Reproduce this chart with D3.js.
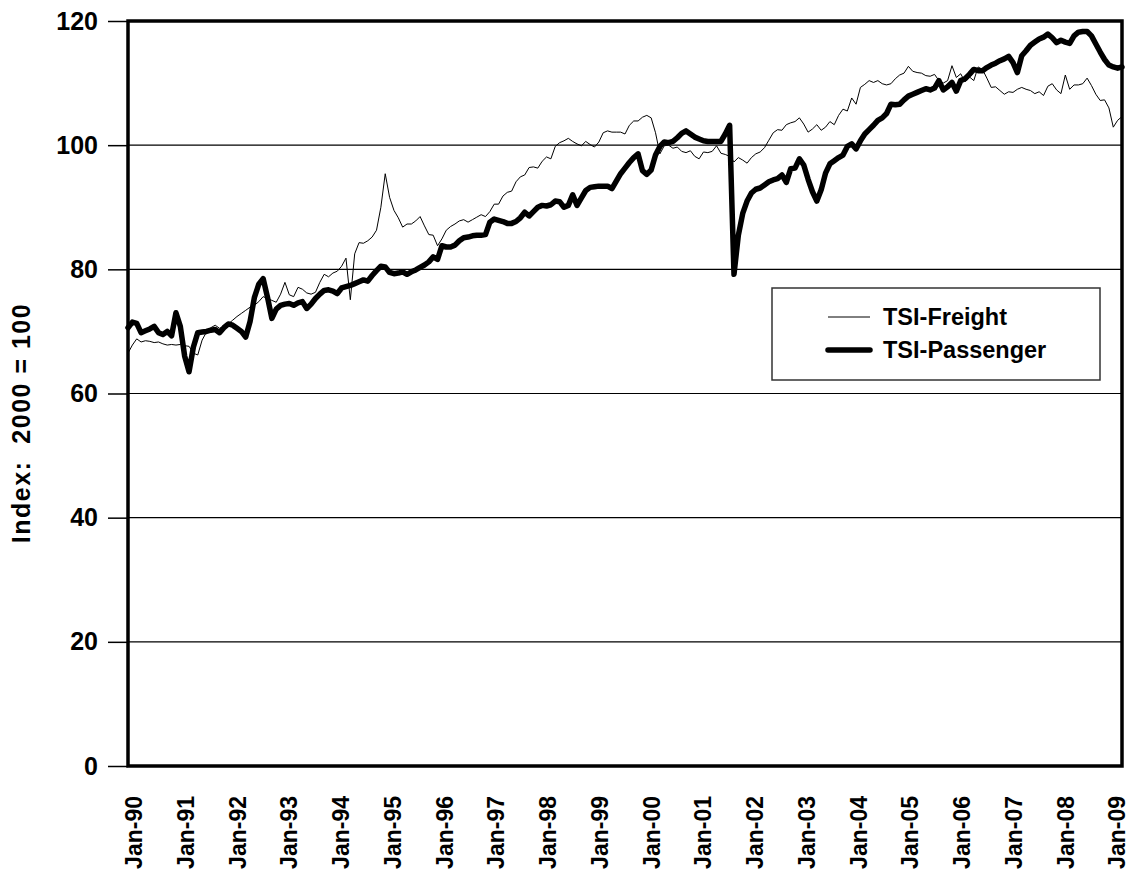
<!DOCTYPE html>
<html>
<head>
<meta charset="utf-8">
<script src="https://cdn.jsdelivr.net/npm/d3@7"></script>
<style>
  html, body { margin: 0; padding: 0; background: #fff; }
  svg { display: block; }
  text { font-family: "Liberation Sans", Arial, Helvetica, sans-serif; font-weight: bold; fill: #000; }
</style>
</head>
<body>
<svg id="chart" width="1129" height="873"></svg>
<script>
// Transportation Services Index, monthly, Jan-90 .. Jan-09 (2000 = 100)
const yearLabels = ["Jan-90","Jan-91","Jan-92","Jan-93","Jan-94","Jan-95","Jan-96","Jan-97","Jan-98","Jan-99",
                    "Jan-00","Jan-01","Jan-02","Jan-03","Jan-04","Jan-05","Jan-06","Jan-07","Jan-08","Jan-09"];
const yTicks = [0, 20, 40, 60, 80, 100, 120];
const seriesNames = ["TSI-Freight", "TSI-Passenger"];

const freight = [
  66.5, 67.8, 68.8, 68.3, 68.5, 68.4, 68.2, 68.3, 68.0, 67.8, 67.9, 67.8,        // 1990
  67.9, 67.7, 67.6, 66.5, 66.2, 68.6, 69.9, 70.6, 71.0, 70.5, 70.8, 71.2,        // 1991
  71.8, 72.4, 72.9, 73.4, 73.9, 74.2, 74.8, 75.6, 75.3, 75.0, 74.7, 76.0,        // 1992
  77.9, 75.9, 75.6, 77.1, 76.8, 76.2, 76.0, 76.3, 77.9, 79.2, 78.8, 79.4,        // 1993
  79.7, 80.5, 81.8, 75.1, 82.5, 84.3, 84.2, 84.6, 85.2, 86.3, 90.0, 95.4,        // 1994
  91.6, 89.5, 88.3, 86.8, 87.3, 87.3, 87.8, 88.5, 87.0, 85.6, 85.5, 83.8,        // 1995
  84.9, 86.3, 86.9, 87.3, 87.8, 88.0, 87.6, 88.0, 88.4, 88.8, 88.5, 89.3,        // 1996
  90.5, 90.5, 91.8, 92.4, 92.6, 94.1, 94.9, 95.2, 96.4, 96.5, 96.3, 97.4,        // 1997
  98.1, 97.8, 99.8, 100.4, 100.7, 101.1, 100.6, 100.2, 99.9, 100.6, 100.1, 99.7, // 1998
  100.5, 102.0, 102.3, 102.1, 102.1, 102.1, 101.8, 103.2, 103.9, 103.9, 104.5, 104.8, // 1999
  104.4, 102.0, 98.6, 99.9, 100.0, 99.5, 99.7, 99.0, 98.8, 99.1, 98.2, 97.8,     // 2000
  98.9, 98.8, 99.0, 99.9, 98.7, 98.5, 98.2, 97.3, 98.0, 97.6, 97.1, 98.0,        // 2001
  98.6, 98.9, 99.6, 100.8, 102.0, 102.5, 102.4, 103.3, 103.6, 103.8, 104.4, 103.4, // 2002
  102.1, 102.6, 103.3, 102.4, 102.9, 103.8, 103.3, 104.8, 105.8, 105.5, 107.6, 106.6, // 2003
  109.3, 109.8, 110.4, 110.1, 110.4, 109.9, 109.7, 109.9, 110.7, 111.3, 111.6, 112.7, // 2004
  111.9, 111.7, 111.6, 111.2, 111.1, 111.4, 110.4, 110.0, 110.4, 112.8, 110.9, 111.5, // 2005
  110.2, 111.0, 110.4, 112.6, 112.2, 110.8, 109.3, 109.4, 108.8, 108.2, 108.6, 108.5, // 2006
  109.0, 109.3, 109.0, 108.8, 108.3, 108.6, 108.0, 109.5, 109.9, 108.9, 108.3, 111.3, // 2007
  109.0, 109.7, 109.7, 109.9, 110.8, 109.6, 108.2, 107.2, 107.3, 106.0, 102.9, 104.0, // 2008
  104.6                                                                            // Jan-09
];

const passenger = [
  70.6, 71.5, 71.3, 69.8, 70.1, 70.4, 70.8, 69.8, 69.5, 70.0, 69.3, 73.0,        // 1990
  70.8, 66.0, 63.5, 67.5, 69.8, 69.9, 70.0, 70.2, 70.3, 69.8, 70.6, 71.2,        // 1991
  71.0, 70.5, 70.0, 69.1, 71.6, 75.5, 77.6, 78.5, 75.5, 72.1, 73.6, 74.2,        // 1992
  74.4, 74.5, 74.2, 74.6, 74.8, 73.7, 74.4, 75.3, 76.0, 76.6, 76.7, 76.5,        // 1993
  76.1, 77.0, 77.2, 77.4, 77.7, 78.0, 78.3, 78.1, 79.0, 79.8, 80.5, 80.4,        // 1994
  79.5, 79.3, 79.4, 79.6, 79.2, 79.6, 79.9, 80.3, 80.7, 81.2, 82.0, 81.6,        // 1995
  83.8, 83.6, 83.6, 83.9, 84.6, 85.1, 85.2, 85.4, 85.5, 85.5, 85.6, 87.6,        // 1996
  88.1, 87.9, 87.7, 87.4, 87.4, 87.7, 88.3, 89.2, 88.6, 89.3, 90.0, 90.3,        // 1997
  90.2, 90.4, 91.0, 90.9, 90.0, 90.3, 92.0, 90.3, 91.5, 92.7, 93.2, 93.3,        // 1998
  93.4, 93.4, 93.4, 93.0, 94.2, 95.4, 96.3, 97.2, 98.0, 98.6, 95.9, 95.3,        // 1999
  96.0, 98.4, 99.8, 100.5, 100.4, 100.6, 101.2, 101.9, 102.3, 101.8, 101.3, 101.0, // 2000
  100.7, 100.6, 100.6, 100.6, 100.6, 101.8, 103.2, 79.2, 85.5, 89.0, 91.0, 92.3,  // 2001
  92.9, 93.1, 93.6, 94.1, 94.4, 94.6, 95.2, 94.0, 96.2, 96.3, 97.8, 96.8,        // 2002
  94.5, 92.5, 91.0, 92.8, 95.5, 97.0, 97.5, 98.0, 98.4, 99.8, 100.2, 99.4,       // 2003
  100.7, 101.8, 102.5, 103.2, 104.0, 104.4, 105.1, 106.6, 106.5, 106.6, 107.3, 107.9, // 2004
  108.2, 108.5, 108.8, 109.1, 108.9, 109.2, 110.4, 108.9, 109.4, 110.1, 108.7, 110.4, // 2005
  110.7, 111.4, 112.2, 112.0, 112.0, 112.5, 112.9, 113.2, 113.6, 113.9, 114.3, 113.3, // 2006
  111.7, 114.4, 115.2, 116.1, 116.6, 117.1, 117.4, 117.9, 117.3, 116.5, 116.9, 116.6, // 2007
  116.4, 117.6, 118.2, 118.3, 118.3, 117.6, 116.3, 115.0, 113.8, 112.9, 112.6, 112.4, // 2008
  112.6                                                                            // Jan-09
];

// ---- layout ----
const svg = d3.select("#chart");
const plot = { left: 128, top: 21, right: 1122, bottom: 766 };

const x = d3.scaleLinear().domain([0, freight.length - 1]).range([plot.left, plot.right]);
const xLab = d3.scalePoint().domain(yearLabels).range([plot.left + 6, plot.right - 5]);
const y = d3.scaleLinear().domain([0, 120]).range([plot.bottom, plot.top]);

// horizontal gridlines
svg.append("g")
  .selectAll("line")
  .data(yTicks.filter(t => t > 0 && t < 120))
  .join("line")
  .attr("x1", plot.left).attr("x2", plot.right)
  .attr("y1", d => y(d)).attr("y2", d => y(d))
  .attr("stroke", "#000").attr("stroke-width", 1.2);

// y axis ticks and labels
const yAxis = d3.axisLeft(y).tickValues(yTicks).tickSize(20).tickPadding(10);
const gy = svg.append("g").attr("transform", `translate(${plot.left},0)`).call(yAxis);
gy.select(".domain").remove();
gy.selectAll(".tick line").attr("stroke", "#000").attr("stroke-width", 1.5);
gy.selectAll(".tick text").attr("font-size", 25).attr("font-family", null).attr("fill", "#000");

// x axis labels (rotated)
svg.append("g")
  .selectAll("text")
  .data(yearLabels)
  .join("text")
  .attr("transform", d => `translate(${xLab(d)},796) rotate(-90)`)
  .attr("text-anchor", "end")
  .attr("dy", "0.36em")
  .attr("font-size", 23)
  .text(d => d);

// y axis title
svg.append("text")
  .attr("transform", "translate(21,423) rotate(-90)")
  .attr("text-anchor", "middle")
  .attr("dy", "0.36em")
  .attr("font-size", 25)
  .attr("letter-spacing", 1.5)
  .attr("xml:space", "preserve")
  .style("white-space", "pre")
  .text("Index:  2000 = 100");

// series lines
const line = d3.line().x((d, i) => x(i)).y(d => y(d)).curve(d3.curveLinear);

svg.append("path")
  .datum(freight)
  .attr("d", line)
  .attr("fill", "none")
  .attr("stroke", "#000")
  .attr("stroke-width", 1)
  .attr("stroke-linejoin", "round");

svg.append("path")
  .datum(passenger)
  .attr("d", line)
  .attr("fill", "none")
  .attr("stroke", "#000")
  .attr("stroke-width", 5.5)
  .attr("stroke-linejoin", "round")
  .attr("stroke-linecap", "round");

// plot frame
svg.append("rect")
  .attr("x", plot.left).attr("y", plot.top)
  .attr("width", plot.right - plot.left).attr("height", plot.bottom - plot.top)
  .attr("fill", "none").attr("stroke", "#000").attr("stroke-width", 3.5);

// legend
const lg = svg.append("g").attr("transform", "translate(772,288)");
lg.append("rect").attr("width", 328).attr("height", 92)
  .attr("fill", "#fff").attr("stroke", "#333").attr("stroke-width", 1.5);
const legendItems = [
  { name: seriesNames[0], width: 1, y: 29 },
  { name: seriesNames[1], width: 5.5, y: 62 }
];
legendItems.forEach(it => {
  lg.append("line").attr("x1", 56).attr("x2", 98).attr("y1", it.y).attr("y2", it.y)
    .attr("stroke", "#000").attr("stroke-width", it.width).attr("stroke-linecap", it.width > 1 ? "round" : "butt");
  lg.append("text").attr("x", 111).attr("y", it.y).attr("dy", "0.36em")
    .attr("font-size", 23.5).text(it.name);
});
</script>
</body>
</html>
